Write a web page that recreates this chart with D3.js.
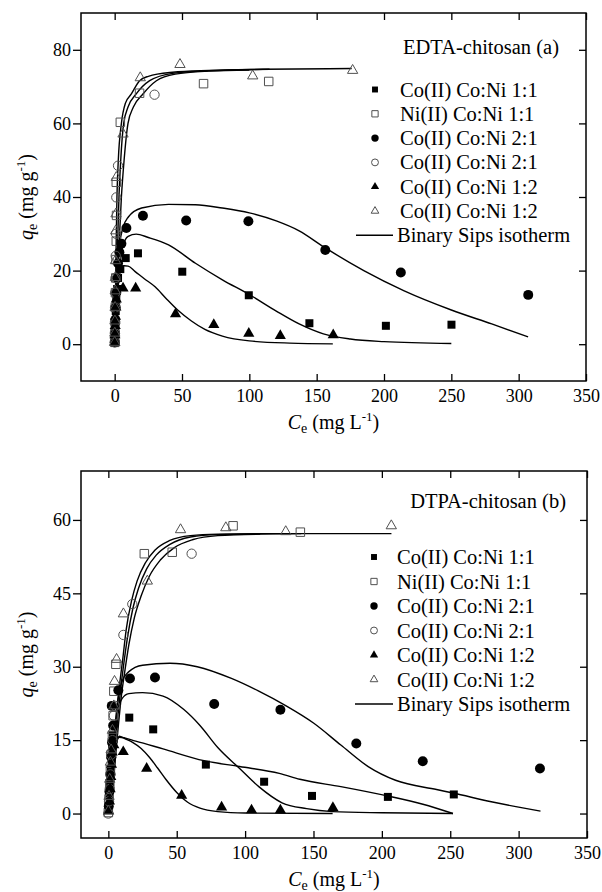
<!DOCTYPE html>
<html><head><meta charset="utf-8">
<script src="https://cdn.jsdelivr.net/npm/d3@7"></script>
<style>
body{margin:0;background:#fff}
svg text{font-family:"Liberation Serif","Times New Roman",serif;fill:#000}
</style>
</head><body>
<svg id="c" width="602" height="892"></svg>
<script>
// ---------------- DATA ----------------
const xTickValues = [0, 50, 100, 150, 200, 250, 300, 350];
const yTicksEDTA = [0, 20, 40, 60, 80];
const yTicksDTPA = [0, 15, 30, 45, 60];
const legendLabels = ["Co(II) Co:Ni 1:1", "Ni(II) Co:Ni 1:1", "Co(II) Co:Ni 2:1",
                      "Co(II) Co:Ni 2:1", "Co(II) Co:Ni 1:2", "Co(II) Co:Ni 1:2"];
const fitLabel = "Binary Sips isotherm";
const titleEDTA = "EDTA-chitosan (a)";
const titleDTPA = "DTPA-chitosan (b)";

// EDTA-chitosan (a) experimental points [Ce, qe]
const edtaCo11 = [[0.1,0.5],[0.2,2],[0.3,4],[0.5,6.5],[0.8,9],[1.2,12],[1.8,15],[2.5,18],[4.2,20.4],[8.2,23.4],[17.3,24.7],[50.2,19.7],[99.6,13.3],[144.6,5.7],[201.4,5.0],[250.1,5.3]];
const edtaNi11 = [[0.1,0.5],[0.2,3],[0.3,6],[0.5,10],[0.6,14],[0.8,18],[1,23],[1.2,28],[1.4,35],[1.2,44],[4.2,60.3],[18.5,68.2],[66,70.8],[114.4,71.4]];
const edtaCo21 = [[0.1,0.5],[0.3,3],[0.5,6],[0.8,10],[1.2,14],[1.8,18],[2.5,22],[3.5,25],[5,27.3],[8.7,31.6],[21,34.9],[53.1,33.6],[99.3,33.4],[156.4,25.6],[212.5,19.5],[307.1,13.4]];
const edtaCo21b = [[0,0.5],[0.1,3],[0.2,6],[0.3,10],[0.4,14],[0.6,18],[0.8,24],[1,30],[1.2,39.9],[2.5,48.5],[29.6,67.8]];
const edtaCo12 = [[0.1,0.5],[0.2,2.5],[0.4,5],[0.6,7.5],[0.9,10],[1.2,12.2],[6.2,15.2],[15.6,15.2],[45.2,8.2],[73.6,5.3],[99.6,2.9],[123,2.3],[162.3,2.5]];
const edtaCo12b = [[0,0.5],[0.1,3],[0.2,6.3],[0.3,10],[0.4,14.5],[0.5,18.1],[0.6,22.7],[0.8,30.8],[1,35.4],[1.2,45.3],[6.2,57.1],[19,72.4],[48.5,76],[102.5,72.9],[176.7,74.4]];

// EDTA-chitosan (a) Binary Sips curves
const edtaFitCo11 = [[0,0],[2,15],[4,22],[6,26.5],[10,29.3],[16,29.9],[25,29],[40,27],[60,22],[80,17.5],[100,13.5],[120,9],[137,5.5],[155,2.8],[175,1.4],[200,0.7],[250,0.2]];
const edtaFitCo21 = [[0,0],[2,20],[4,28],[6,31.5],[10,34.5],[20,37],[40,38],[60,37.9],[80,37],[100,35.7],[120,33.5],[137,30.8],[155,26.5],[185,20],[215,14.5],[250,9.3],[280,5.5],[307,2]];
const edtaFitCo12 = [[0,0],[2,13],[4,19.5],[7,21.3],[10,21.2],[15,19.8],[22,17.8],[30,15.6],[38,12.5],[47,9.2],[57,6.3],[67,4],[80,2.2],[100,0.9],[130,0.3],[162,0.1]];
const edtaFitCo12b = [[0,0],[0.5,10],[1,25],[1.7,40],[2.7,50],[5,60],[8,65.5],[12.4,68],[18.5,71.6],[25,72.8],[43,73.9],[70,74.4],[110,74.7],[176,74.9]];
const edtaFitNi11 = [[0,0],[1,12],[2,25],[3.2,40],[4.5,50],[6.7,60],[10,64.5],[16,68],[26,71.6],[43,73.6],[70,74.3],[115,74.7]];
const edtaFitCo21b = [[0,0],[1.5,12],[3,25],[5,40],[7,50],[9.9,60],[14,64.5],[21,68],[31,71.6],[45,73.4],[70,74.2],[100,74.5]];

// DTPA-chitosan (b) experimental points [Ce, qe]
const dtpaCo11 = [[0.3,1],[0.8,3.5],[1.3,6],[1.8,8.5],[2.3,11],[2.8,13.5],[3.3,16],[15.3,19.6],[32.8,17.2],[71.3,10.0],[113.9,6.5],[148.9,3.6],[204.4,3.4],[252.6,3.9]];
const dtpaNi11 = [[0,0.2],[0.5,3],[1,6],[1.5,9],[2,12],[3,16],[3.5,20],[4,25],[5.5,30.5],[26.3,53.1],[46.7,53.4],[91.2,58.8],[140.4,57.5]];
const dtpaCo21 = [[0.3,1.5],[0.8,4.5],[1.5,8],[2.2,11.5],[2.7,14.5],[3.5,18],[2.5,22],[7.3,25.2],[15.8,27.6],[34.1,27.8],[77.4,22.4],[125.8,21.2],[181.3,14.3],[229.9,10.7],[315.6,9.2]];
const dtpaCo21b = [[0,0],[0.5,2.5],[1,5],[1.5,8],[2,12],[3,15],[4,20],[5,22],[11,36.5],[17.5,42.8],[60.9,53.1]];
const dtpaCo12 = [[0.2,0.5],[0.8,2.5],[1.3,5],[1.8,7.5],[2.3,10],[2.8,12.5],[4,14],[10.9,12.6],[28,9.2],[53.6,3.7],[82.8,1.3],[104.7,0.7],[125.8,0.7],[164.2,1.2]];
const dtpaCo12b = [[0,0.5],[0.5,3.5],[1,7],[1.5,10.5],[2,13],[3,17],[4,22],[4.5,27],[6,31.5],[11,40.8],[28.5,47.5],[52.8,58.0],[85.9,58.4],[129.7,57.6],[206.9,58.8]];

// DTPA-chitosan (b) Binary Sips curves
const dtpaFitCo11 = [[1,0],[3,8],[5,13],[8,15.6],[20,14.8],[40,13.2],[70,10.8],[96,9.6],[125,8.2],[140,7],[170,5.5],[204,3.6],[230,1.9],[252,0]];
const dtpaFitCo11b = [[1,0],[3,9],[5,16],[7,21],[10,23.5],[15,24.5],[25,24.7],[40,24],[55,21.3],[67,18],[80,13.5],[96,9.2],[110,5.5],[127,2.2],[145,1.0],[164,0.4],[200,0.15],[252,0]];
const dtpaFitCo21 = [[1,0],[3,10],[5,18],[7,23.5],[10,27],[15,29],[25,30.3],[45,30.7],[65,30],[90,27.6],[110,25],[130,22],[150,18.5],[170,14],[190,9.6],[210,6.8],[240,4.9],[252,4.2],[280,2.4],[300,1.3],[316,0.5]];
const dtpaFitCo12 = [[1,0],[3,8],[5,13],[8,15.8],[12,15.3],[18,14.5],[24,13.3],[30,11.5],[36,9.3],[42,7],[50,4.3],[58,2.3],[67,1.1],[80,0.4],[100,0.1],[164,0]];
const dtpaFitCo12b = [[0.5,0],[2.5,8],[4.5,15.5],[6.5,21.5],[8.5,27],[10.5,31.5],[13,37.5],[17,43.5],[21,47.5],[27,51.2],[34,53.8],[45,55.8],[60,56.8],[80,57.1],[120,57.2],[207,57.2]];
const dtpaFitNi11 = [[1,0],[3,7],[5,14],[7,20],[9,25.5],[11,30],[14,36],[18,42],[22,46],[28,50],[35,52.8],[45,55],[60,56.5],[80,57],[141,57.2]];
const dtpaFitCo21b = [[1.5,0],[3.5,6],[5.5,12.5],[7.5,18.5],[9.5,24],[12,29],[15,34.5],[19,40],[24,44.5],[30,48.5],[38,51.8],[48,54.3],[62,56],[80,56.8],[111,57.1]];

// ---------------- DRAWING ----------------
const svg = d3.select("#c");
svg.append("rect").attr("width", 602).attr("height", 892).attr("fill", "#fff");

const markerKinds = ["squareF", "squareO", "circleF", "circleO", "triF", "triO"];
const OPEN = "#505050";
function symbolFor(kind, legend) {
  const s = legend ? 0.55 : 1;
  switch (kind) {
    case "squareF": return d3.symbol(d3.symbolSquare, 64 * s)();
    case "squareO": return d3.symbol(d3.symbolSquare, 72 * s)();
    case "circleF": return d3.symbol(d3.symbolCircle, 78 * s)();
    case "circleO": return d3.symbol(d3.symbolCircle, 68 * s)();
    case "triF": return d3.symbol(d3.symbolTriangle, 54 * s)();
    case "triO": return d3.symbol(d3.symbolTriangle, 46 * s)();
  }
}
function styleMarker(sel, kind) {
  const open = kind.endsWith("O");
  sel.attr("fill", open ? "none" : "#000")
     .attr("stroke", open ? OPEN : "none")
     .attr("stroke-width", open ? 1 : 0);
}

function drawPanel(cfg) {
  const g = svg.append("g");
  const x = d3.scaleLinear().domain(cfg.xDomain).range([cfg.left, cfg.right]);
  const y = d3.scaleLinear().domain(cfg.yDomain).range([cfg.bottom, cfg.top]);

  // fitted curves
  const line = d3.line().x(d => x(d[0])).y(d => y(d[1])).curve(d3.curveMonotoneX);
  cfg.fits.forEach(f => g.append("path").attr("d", line(f))
      .attr("fill", "none").attr("stroke", "#000").attr("stroke-width", 1.4));

  // points
  cfg.series.forEach((s, i) => {
    const kind = markerKinds[i];
    g.append("g").selectAll("path").data(s).join("path")
      .attr("d", symbolFor(kind, false))
      .attr("transform", d => `translate(${x(d[0])},${y(d[1])})`)
      .call(styleMarker, kind);
  });

  // frame
  g.append("rect").attr("x", cfg.left).attr("y", cfg.top)
    .attr("width", cfg.right - cfg.left).attr("height", cfg.bottom - cfg.top)
    .attr("fill", "none").attr("stroke", "#000").attr("stroke-width", 1.5);

  const fontTick = "18px";
  const ax = (axis, tx, ty, labels) => {
    const a = g.append("g").attr("transform", `translate(${tx},${ty})`).call(axis);
    a.select(".domain").remove();
    a.selectAll(".tick line").attr("stroke", "#000").attr("stroke-width", 1.3);
    a.selectAll(".tick text").attr("font-size", fontTick)
      .attr("font-family", "'Liberation Serif','Times New Roman',serif").attr("fill", "#000");
    if (!labels) a.selectAll(".tick text").remove();
    return a;
  };
  ax(d3.axisBottom(x).tickValues(xTickValues).tickSize(-7).tickPadding(8), 0, cfg.bottom, true);
  ax(d3.axisTop(x).tickValues(xTickValues).tickSize(-7), 0, cfg.top, false);
  ax(d3.axisLeft(y).tickValues(cfg.yTicks).tickSize(8).tickPadding(2), cfg.left, 0, true);
  ax(d3.axisRight(y).tickValues(cfg.yTicks).tickSize(-7), cfg.right, 0, false);

  // title
  g.append("text").attr("x", cfg.titleX).attr("y", cfg.titleY)
    .attr("text-anchor", "end").attr("font-size", "20.5px").text(cfg.title);

  // legend
  const lg = g.append("g");
  legendLabels.forEach((lab, i) => {
    const cy = cfg.legY + i * cfg.legStep;
    const kind = markerKinds[i];
    lg.append("path").attr("d", symbolFor(kind, true))
      .attr("transform", `translate(${cfg.legMarkX},${cy})`).call(styleMarker, kind);
    lg.append("text").attr("x", cfg.legTextX).attr("y", cy + 7)
      .attr("font-size", "20.5px").text(lab);
  });
  const cy = cfg.legY + 6 * cfg.legStep;
  lg.append("line").attr("x1", cfg.legLineX1).attr("x2", cfg.legLineX2)
    .attr("y1", cy).attr("y2", cy).attr("stroke", "#000").attr("stroke-width", 1.4);
  lg.append("text").attr("x", cfg.legLineX2 + 4).attr("y", cy + 7)
    .attr("font-size", "20.5px").text(fitLabel);

  // axis titles
  const xl = g.append("text").attr("x", (cfg.left + cfg.right) / 2).attr("y", cfg.xLabelY)
    .attr("text-anchor", "middle").attr("font-size", "20px");
  xl.append("tspan").attr("font-style", "italic").text("C");
  xl.append("tspan").attr("font-size", "14px").attr("dy", 4).text("e");
  xl.append("tspan").attr("dy", -4).text(" (mg L");
  xl.append("tspan").attr("font-size", "13px").attr("dy", -8).text("-1");
  xl.append("tspan").attr("dy", 8).text(")");

  const yl = g.append("text")
    .attr("transform", `translate(${cfg.yLabelX},${(cfg.top + cfg.bottom) / 2}) rotate(-90)`)
    .attr("text-anchor", "middle").attr("font-size", "20px");
  yl.append("tspan").attr("font-style", "italic").text("q");
  yl.append("tspan").attr("font-size", "14px").attr("dy", 4).text("e");
  yl.append("tspan").attr("dy", -4).text(" (mg g");
  yl.append("tspan").attr("font-size", "13px").attr("dy", -8).text("-1");
  yl.append("tspan").attr("dy", 8).text(")");
}

drawPanel({
  left: 81, right: 586, top: 13, bottom: 381,
  xDomain: [-25, 350], yDomain: [-10, 90], yTicks: yTicksEDTA,
  series: [edtaCo11, edtaNi11, edtaCo21, edtaCo21b, edtaCo12, edtaCo12b],
  fits: [edtaFitCo11, edtaFitCo21, edtaFitCo12, edtaFitCo12b, edtaFitNi11, edtaFitCo21b],
  title: titleEDTA, titleX: 559, titleY: 54,
  legY: 89.5, legStep: 24.3, legMarkX: 375, legTextX: 400, legLineX1: 356, legLineX2: 393,
  xLabelY: 429, yLabelX: 33
});
drawPanel({
  left: 81, right: 587, top: 471, bottom: 838,
  xDomain: [-20, 350], yDomain: [-5, 70], yTicks: yTicksDTPA,
  series: [dtpaCo11, dtpaNi11, dtpaCo21, dtpaCo21b, dtpaCo12, dtpaCo12b],
  fits: [dtpaFitCo11, dtpaFitCo11b, dtpaFitCo21, dtpaFitCo12, dtpaFitCo12b, dtpaFitNi11, dtpaFitCo21b],
  title: titleDTPA, titleX: 566, titleY: 508,
  legY: 557, legStep: 24.5, legMarkX: 374, legTextX: 397, legLineX1: 355, legLineX2: 393,
  xLabelY: 886, yLabelX: 33
});
</script>
</body></html>
